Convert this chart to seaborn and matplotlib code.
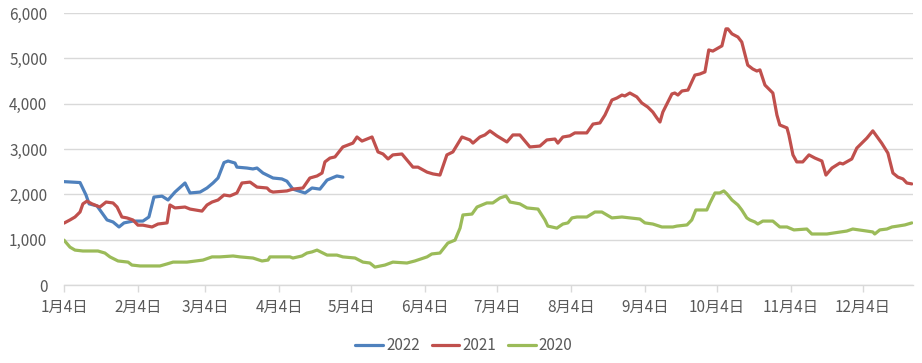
import matplotlib
matplotlib.use("Agg")
import matplotlib.pyplot as plt
import seaborn as sns
import pandas as pd

# ---- data (x = days since Jan 4) ----
days_2022 = [0, 6.7, 9.2, 10.5, 13.8, 18, 20.5, 23, 25.1, 28.8, 33, 35.5, 37.6, 41, 43.5, 46.4,
             50.6, 52.7, 56.9, 59.8, 62.3, 64.4, 66.9, 68.6, 71.5, 72.3, 76.5, 79, 80.7, 83.2,
             87.4, 91.1, 93.2, 95.7, 100.8, 103.7, 107, 110, 114.1, 116.6]
vals_2022 = [2280, 2260, 1985, 1790, 1745, 1435, 1390, 1280, 1370, 1410, 1410, 1500, 1940, 1960,
             1875, 2050, 2250, 2030, 2050, 2140, 2250, 2360, 2700, 2735, 2690, 2600, 2580, 2560,
             2580, 2470, 2360, 2340, 2290, 2115, 2030, 2140, 2115, 2315, 2405, 2380]

days_2021 = [0, 2.5, 4.6, 6.7, 7.9, 9.6, 11.7, 15, 17.6, 20.5, 22.2, 24.2, 26.3, 28.8, 30.9, 33,
             36.8, 39.3, 43.1, 44.3, 46.4, 50.6, 52.7, 57.7, 59.8, 61.9, 64.4, 66.9, 69.4, 72.3,
             74.4, 77.8, 80.7, 84.9, 86.1, 87.4, 93.2, 95.7, 99.9, 102.8, 105.8, 107.9, 109.1,
             111.2, 113.3, 116.6, 120.8, 122.5, 124.6, 128.8, 131.3, 133.4, 135.5, 137.5, 141.3,
             145.9, 148, 151.8, 154.3, 157.2, 160.1, 162.6, 166.4, 169.7, 171, 173.9, 176, 178.1,
             181, 185.2, 187.7, 190.6, 194.8, 199, 201.9, 205.3, 206.5, 208.6, 211.5, 213.6,
             218.6, 221.2, 224.1, 226.2, 229.1, 231.2, 233.3, 234.5, 236.6, 239.5, 241.6, 244.1,
             246.2, 247.9, 249.2, 250.4, 254.2, 255.4, 256.7, 258.4, 260.9, 263.8, 265.9, 268,
             269.6, 271.3, 275.1, 276.8, 277.6, 279.3, 281.8, 283.4, 285.9, 288, 289.7, 291,
             293.1, 295.2, 296.4, 298.1, 299.3, 302.3, 303.1, 304.8, 306.4, 308.9, 311.5, 314,
             316.9, 318.6, 321.1, 323.2, 324.4, 325.7, 329.4, 331.5, 333.6, 335.7, 338.2, 341.9,
             344.5, 346.6, 348.7, 350.8, 352.4, 354.5]
vals_2021 = [1365, 1435, 1500, 1610, 1790, 1850, 1790, 1720, 1830, 1810, 1720, 1500, 1480, 1435,
             1320, 1320, 1280, 1345, 1370, 1765, 1700, 1720, 1675, 1630, 1765, 1830, 1875, 1985,
             1965, 2030, 2250, 2270, 2160, 2140, 2075, 2050, 2075, 2115, 2140, 2360, 2405, 2470,
             2715, 2800, 2825, 3045, 3130, 3265, 3175, 3265, 2935, 2890, 2780, 2870, 2890, 2600,
             2600, 2490, 2450, 2425, 2870, 2935, 3265, 3200, 3130, 3265, 3310, 3400, 3290, 3155,
             3310, 3310, 3045, 3065, 3200, 3220, 3130, 3265, 3290, 3355, 3355, 3550, 3575, 3750,
             4080, 4125, 4190, 4170, 4235, 4150, 4015, 3925, 3815, 3685, 3595, 3815, 4215, 4235,
             4190, 4280, 4300, 4630, 4655, 4700, 5185, 5160, 5275, 5650, 5650, 5540, 5470, 5360,
             4850, 4765, 4720, 4745, 4410, 4300, 4235, 3750, 3530, 3465, 3310, 2870, 2715, 2715,
             2870, 2800, 2735, 2425, 2580, 2650, 2690, 2670, 2780, 3020, 3130, 3240, 3400, 3130,
             2910, 2470, 2380, 2340, 2250, 2230]

days_2020 = [0, 2.5, 4.6, 7.9, 14.2, 17.1, 19.2, 22.6, 26.8, 28.4, 31.8, 40.1, 43.1, 45.6, 51.4,
             58.1, 61.9, 65.2, 70.7, 73.6, 79, 82.8, 85.3, 86.1, 94.5, 95.7, 99.5, 101.6, 103.7,
             105.8, 110, 114.1, 116.6, 121.7, 125, 127.9, 130, 134.2, 137.5, 143.4, 146.7, 151.8,
             153.8, 157.2, 160.5, 163.5, 165.6, 166.8, 170.6, 172.7, 176.8, 179.3, 182.3, 184.8,
             186.5, 190.6, 193.6, 198.2, 201.1, 202.3, 206.1, 208.6, 210.7, 212.4, 214.5, 218.6,
             222, 224.9, 229.1, 233.3, 240.8, 242.9, 246.2, 250, 254.6, 256.3, 260.5, 262.5,
             264.2, 268.8, 270.1, 272.2, 274.2, 275.9, 277.2, 279.3, 281.8, 283.4, 285.5, 286.8,
             288.9, 290.1, 292.2, 296.4, 299.3, 302.3, 305.2, 310.6, 312.7, 319, 321.5, 327.3,
             329.8, 335.7, 338.2, 339, 341.1, 344.1, 346.2, 348.7, 351.6, 354.5]
vals_2020 = [990, 835, 770, 750, 750, 705, 620, 530, 505, 440, 420, 420, 465, 505, 505, 550, 620,
             620, 640, 620, 595, 530, 550, 620, 620, 595, 640, 705, 730, 770, 660, 660, 620, 595,
             505, 485, 395, 440, 505, 485, 530, 620, 685, 705, 925, 990, 1255, 1545, 1565, 1720,
             1810, 1810, 1920, 1965, 1830, 1790, 1700, 1675, 1435, 1300, 1255, 1345, 1370, 1480,
             1500, 1500, 1610, 1610, 1480, 1500, 1455, 1370, 1345, 1280, 1280, 1300, 1325, 1435,
             1655, 1655, 1810, 2030, 2030, 2075, 2010, 1875, 1765, 1655, 1480, 1435, 1390, 1345,
             1410, 1410, 1280, 1280, 1215, 1235, 1125, 1125, 1145, 1190, 1235, 1190, 1170, 1125,
             1215, 1235, 1280, 1300, 1325, 1370]

series_names = ["2022", "2021", "2020"]
colors = ["#4F81BD", "#C0504D", "#9BBB59"]
tick_days = [0, 31, 59, 90, 120, 151, 181, 212, 243, 273, 304, 334]
tick_labels = ["1月4日", "2月4日", "3月4日", "4月4日", "5月4日", "6月4日",
               "7月4日", "8月4日", "9月4日", "10月4日", "11月4日", "12月4日"]
y_ticks = [0, 1000, 2000, 3000, 4000, 5000, 6000]

frames = []
for name, d, v in zip(series_names, [days_2022, days_2021, days_2020],
                      [vals_2022, vals_2021, vals_2020]):
    frames.append(pd.DataFrame({"day": d, "value": v, "year": name}))
df = pd.concat(frames, ignore_index=True)

sns.set_theme(style="white")
plt.rcParams["font.family"] = ["Noto Sans CJK SC", "DejaVu Sans"]

fig = plt.figure(figsize=(9.22, 3.63), dpi=100)
ax = fig.add_axes([64 / 922, 1 - 285 / 363, (913 - 64) / 922, (285 - 13) / 363])

sns.lineplot(data=df, x="day", y="value", hue="year", hue_order=series_names,
             palette=colors, ax=ax, linewidth=2.3, sort=False, estimator=None,
             legend=True)
for ln in ax.lines:
    ln.set_solid_joinstyle("round")
    ln.set_solid_capstyle("round")

ax.set_xlim(0, 355)
ax.set_ylim(0, 6000)
ax.set_yticks(y_ticks)
ax.set_yticklabels([f"{t:,}" for t in y_ticks])
ax.set_xticks(tick_days)
ax.set_xticklabels(tick_labels)
ax.set_xlabel("")
ax.set_ylabel("")

ax.grid(axis="y", color="#D9D9D9", linewidth=1.0)
ax.grid(axis="x", visible=False)
ax.set_axisbelow(True)
for s in ["left", "right", "top"]:
    ax.spines[s].set_visible(False)
ax.spines["bottom"].set_color("#D9D9D9")
ax.spines["bottom"].set_linewidth(1.0)

ax.tick_params(axis="y", length=0, pad=12, labelsize=11, labelcolor="#595959")
ax.tick_params(axis="x", length=5, width=1, color="#D9D9D9", pad=5,
               labelsize=11, labelcolor="#595959", bottom=True)

handles, labels = ax.get_legend_handles_labels()
ax.legend_.remove()
fig.legend(handles, labels, loc="center", bbox_to_anchor=(464 / 922, 1 - 346 / 363),
           ncol=3, frameon=False, fontsize=11, handlelength=1.8, handletextpad=0.2,
           columnspacing=0.8, labelcolor="#595959")

fig.savefig("out.png", dpi=100)
